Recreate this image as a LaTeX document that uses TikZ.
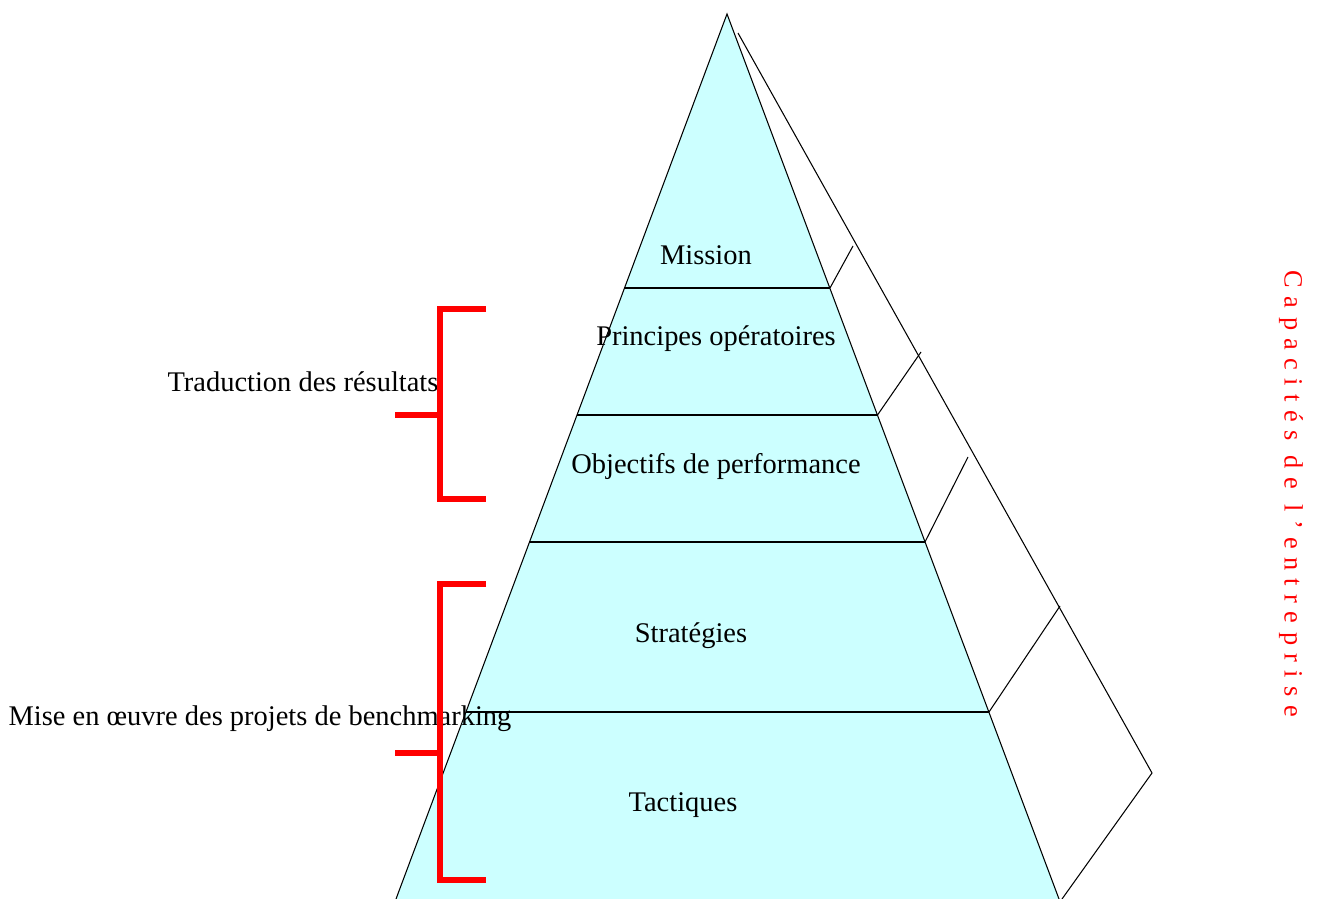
\documentclass[tikz,border=0pt]{standalone}
\usepackage{fontspec}
\setmainfont{Liberation Serif}
\definecolor{pyrfill}{HTML}{CCFFFF}
\begin{document}
\begin{tikzpicture}[x=0.02cm,y=-0.02cm,line width=0.6pt,
  lbl/.style={font=\fontsize{16.2}{19}\selectfont},
  brace/.style={red,line width=3.4pt}]
\useasboundingbox (0,0) rectangle (1320,899);
% pyramide
\fill[pyrfill] (727,14) -- (1059,899) -- (396,899) -- cycle;
\draw (396,899) -- (727,14) -- (1059,899);
\draw (624.5,288) -- (830,288);
\draw (577,415) -- (877.5,415);
\draw (529.5,542) -- (925,542);
\draw (466,712) -- (989,712);
% face arriere
\draw (738,33) -- (1152,773) -- (1062,899);
\draw (830,288) -- (853,246);
\draw (877.5,415) -- (921,352);
\draw (925,542) -- (968,457);
\draw (989,712) -- (1060,606);
% niveaux
\node[lbl] (mission) at (706,255) {Mission};
\node[lbl] (principes) at (716,339) {Principes opératoires};
\node[lbl] (objectifs) at (716,467) {Objectifs de performance};
\node[lbl] (strategies) at (691,636) {Stratégies};
\node[lbl] (tactiques) at (683,805) {Tactiques};
\node[lbl] (traduction) at (303,382) {Traduction des résultats};
\node[lbl] (miseoeuvre) at (260,719) {Mise en œuvre des projets de benchmarking};
\node[red,rotate=-90,font=\fontsize{15}{17}\selectfont\addfontfeature{LetterSpace=32}] (capacites) at (1291,494) {Capacités de l’entreprise};
% accolades
\draw[brace] (486,309) -- (440,309) -- (440,499) -- (486,499);
\draw[brace] (395,415) -- (440,415);
\draw[brace] (486,584) -- (440,584) -- (440,880) -- (486,880);
\draw[brace] (395,753) -- (440,753);
\end{tikzpicture}
\end{document}
